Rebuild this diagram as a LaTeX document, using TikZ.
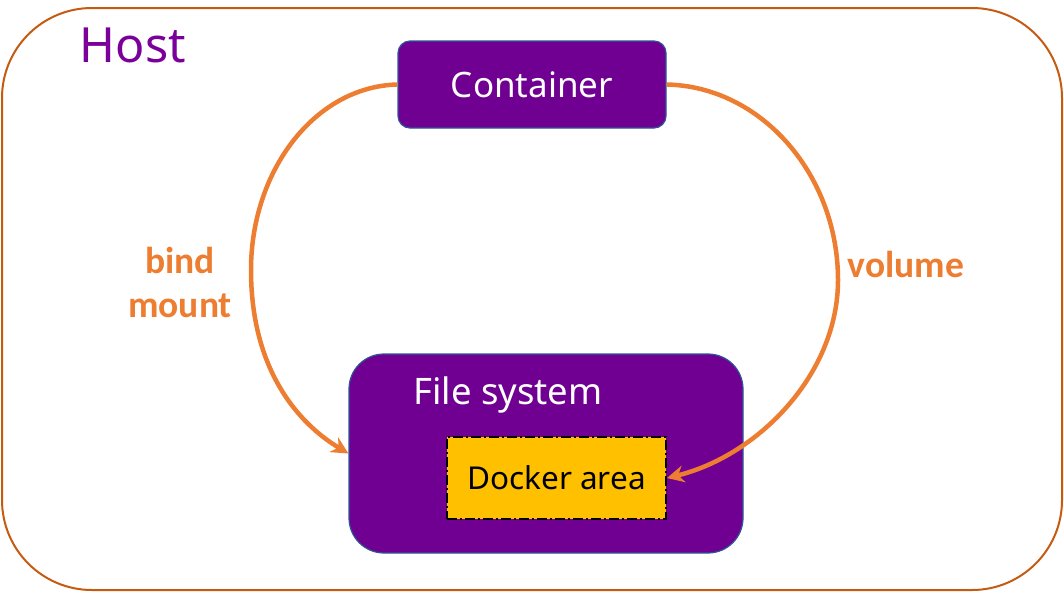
\documentclass[tikz,border=0pt]{standalone}
\usepackage{fontspec}
\setmainfont{Noto Sans}
\newfontfamily\lblfont{Carlito}
\usetikzlibrary{arrows.meta}
\definecolor{hostline}{HTML}{C55A11}
\definecolor{hosttxt}{HTML}{7A0099}
\definecolor{boxfill}{HTML}{6F0091}
\definecolor{boxline}{HTML}{2F5597}
\definecolor{docker}{HTML}{FFC000}
\definecolor{arr}{HTML}{ED7D31}
\tikzset{
  pbox/.style={draw=boxline, line width=1.2pt, fill=boxfill, text=white, inner sep=0pt},
  arrline/.style={draw=arr, line width=4.5pt, -{Stealth[length=17pt,width=17pt]}},
  lbl/.style={text=arr, font=\lblfont\bfseries\fontsize{37.5}{44}\selectfont, align=center}
}
\begin{document}
\begin{tikzpicture}[x=1pt,y=-1pt]
\useasboundingbox (0,0) rectangle (1064,592);
\draw[hostline, line width=2pt, rounded corners=90pt] (2,8) rectangle (1062,590);
\node[text=hosttxt, font=\fontsize{48.5}{52}\selectfont] (host) at (133,45) {Host};
\node[pbox, rounded corners=12pt, minimum width=268pt, minimum height=87pt, font=\fontsize{35}{40}\selectfont] (cont) at (532,84.5) {Container};
\node[pbox, rounded corners=35pt, minimum width=394pt, minimum height=199pt] (fs) at (546,453.5) {};
\node[text=white, font=\fontsize{36.5}{40}\selectfont] (fst) at (508,395) {File system};
\node[draw=black, line width=2pt, fill=docker, dash pattern=on 10pt off 3pt on 2pt off 3pt, minimum width=219pt, minimum height=82pt, inner sep=0pt, font=\fontsize{31.5}{36}\selectfont] (dock) at (556.5,478) {Docker area};
\coordinate (bl) at (251,270);
\coordinate (vr) at (838,280);
\draw[arrline] (cont.west) .. controls +(-82,2) and +(0,-100) .. (bl) .. controls +(0,100) and +(-50,-30) .. (fs.west);
\draw[arrline] (cont.east) .. controls +(95,2) and +(0,-105) .. (vr) .. controls +(0,95) and +(90,-22) .. (dock.east);
\node[lbl] (bind) at (180,282) {bind\\mount};
\node[lbl] (vol) at (906,264) {volume};
\end{tikzpicture}
\end{document}
